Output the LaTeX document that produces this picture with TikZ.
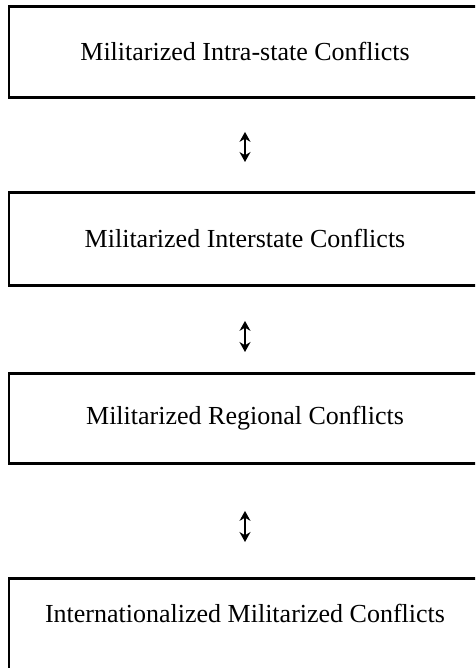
\documentclass[tikz,border=0pt]{standalone}
\usepackage{fontspec}
\setmainfont{Liberation Serif}
\usetikzlibrary{arrows.meta}

\begin{document}
\begin{tikzpicture}[x=1pt,y=-1pt,font=\fontsize{26}{30}\selectfont,
		conflictbox/.style={draw,line width=2.9pt,minimum width=472pt,anchor=north,inner sep=0pt},
		linkarrow/.style={{Stealth[length=10pt,width=11pt]}-{Stealth[length=10pt,width=11pt]},line width=1.2pt}]
		\clip (0,0) rectangle (475,668);
		\node[conflictbox,minimum height=91pt] (intra) at (245,5) {Militarized Intra-state Conflicts};
		\node[conflictbox,minimum height=93pt] (inter) at (245,191) {Militarized Interstate Conflicts};
		\node[conflictbox,minimum height=90pt] (regional) at (245,372) {Militarized Regional Conflicts};
		\node[conflictbox,minimum height=120pt] (global) at (245,577) {};
		\node (globallbl) at (245,613) {Internationalized Militarized Conflicts};
		\draw[linkarrow,shorten <=33pt,shorten >=29pt] (intra.south) -- (inter.north);
		\draw[linkarrow,shorten <=34pt,shorten >=20pt] (inter.south) -- (regional.north);
		\draw[linkarrow,shorten <=46pt,shorten >=35pt] (regional.south) -- (global.north);
	\end{tikzpicture}
\end{document}
